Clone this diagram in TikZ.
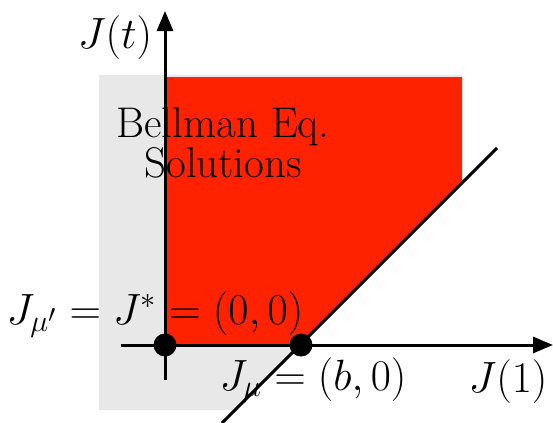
\documentclass[tikz,border=0pt]{standalone}
\usetikzlibrary{arrows.meta}
\definecolor{regred}{HTML}{FF2200}
\definecolor{reggray}{HTML}{E8E8E8}
\begin{document}
\begin{tikzpicture}[x=0.5pt,y=-0.5pt,
  axis/.style={line width=1.5pt,-{Triangle[length=10pt,width=8pt]}},
  boundary/.style={line width=1.5pt},
  pt/.style={circle,fill=black,inner sep=0pt,minimum size=11.5pt},
  lbl/.style={font=\huge,scale=1.055,anchor=base,inner sep=0pt}]
\useasboundingbox (0,0) rectangle (553,423);
% regions
\fill[reggray] (99,75) -- (462,75) -- (462,183) -- (235,410) -- (99,410) -- cycle;
\fill[regred] (165,77) -- (462,77) -- (462,183) -- (300,345) -- (165,345) -- cycle;
% axes
\coordinate (xs) at (121,345);
\coordinate (xe) at (553,345);
\coordinate (ys) at (165,380);
\coordinate (ye) at (165,11);
\draw[axis] (xs) -- (xe);
\draw[axis] (ys) -- (ye);
% boundary line
\coordinate (ls) at (222,423);
\coordinate (le) at (497,148);
\draw[boundary] (ls) -- (le);
% points
\node[pt] (p0) at (165,345) {};
\node[pt] (pb) at (301,345) {};
% labels
\node[lbl] (jt) at (115,48) {$J(t)$};
\node[lbl,scale=0.98,align=center,anchor=north,font=\fontsize{20.74}{17.5}\selectfont] (bell) at (223,107) {Bellman Eq.\\Solutions};
\node[lbl] (jstar) at (155,324) {$J_{\mu'}=J^*=(0,0)$};
\node[lbl] (jmu) at (313,390) {$J_{\mu}=(b,0)$};
\node[lbl] (j1) at (508,393) {$J(1)$};
\end{tikzpicture}
\end{document}
